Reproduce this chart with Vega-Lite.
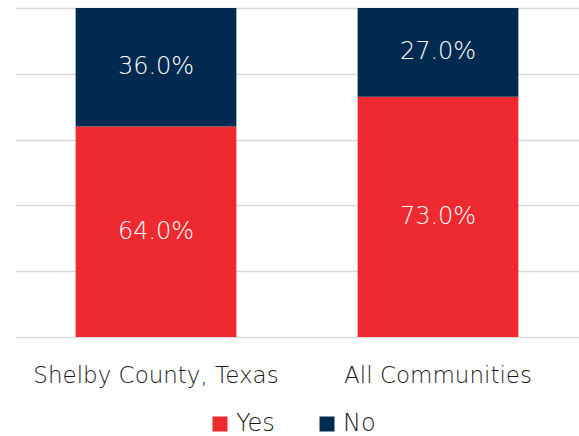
{
  "$schema": "https://vega.github.io/schema/vega-lite/v6.json",
  "width": 564,
  "height": 329,
  "autosize": {"type": "none"},
  "padding": {"left": 15, "top": 8, "right": 0, "bottom": 99},
  "background": "white",
  "config": {
    "view": {"stroke": null},
    "font": "DejaVu Sans",
    "axis": {"labelFont": "DejaVu Sans", "labelColor": "#222222"}
  },
  "data": {
    "values": [
      {"area": "Shelby County, Texas", "answer": "Yes", "value": 0.64, "ord": 1},
      {"area": "Shelby County, Texas", "answer": "No", "value": 0.36, "ord": 2},
      {"area": "All Communities", "answer": "Yes", "value": 0.73, "ord": 1},
      {"area": "All Communities", "answer": "No", "value": 0.27, "ord": 2}
    ]
  },
  "transform": [
    {"stack": "value", "groupby": ["area"], "sort": [{"field": "ord"}], "as": ["v0", "v1"]},
    {"calculate": "(datum.v0 + datum.v1) / 2", "as": "mid"}
  ],
  "encoding": {
    "x": {
      "field": "area",
      "type": "nominal",
      "sort": ["Shelby County, Texas", "All Communities"],
      "scale": {"paddingInner": 0.43, "paddingOuter": 0.215},
      "axis": {"title": null, "labelAngle": 0, "labelFontSize": 23, "labelFontWeight": 200, "labelPadding": 27, "labelLimit": 0, "ticks": false, "domain": false, "labelColor": "#1a1a1a"}
    }
  },
  "layer": [
    {
      "mark": {"type": "bar"},
      "encoding": {
        "y": {
          "field": "v0",
          "type": "quantitative",
          "scale": {"domain": [0, 1]},
          "axis": {"title": null, "labels": false, "ticks": false, "domain": false, "values": [0, 0.2, 0.4, 0.6, 0.8, 1], "gridColor": "#d9d9d9", "gridWidth": 1.5}
        },
        "y2": {"field": "v1"},
        "color": {
          "field": "answer",
          "type": "nominal",
          "scale": {"domain": ["Yes", "No"], "range": ["#EE2930", "#002A4F"]},
          "legend": {
            "title": null,
            "orient": "none",
            "legendX": 193,
            "legendY": 404,
            "direction": "horizontal",
            "symbolType": "square",
            "symbolSize": 225,
            "symbolStrokeWidth": 0,
            "labelFontSize": 24,
            "labelFontWeight": 200,
            "labelColor": "#1a1a1a",
            "labelFont": "DejaVu Sans",
            "columnPadding": 40,
            "labelOffset": 4
          }
        }
      }
    },
    {
      "mark": {"type": "text", "color": "white", "fontSize": 24, "fontWeight": 200, "baseline": "middle", "align": "center"},
      "encoding": {
        "y": {"field": "mid", "type": "quantitative"},
        "text": {"field": "value", "type": "quantitative", "format": ".1%"}
      }
    }
  ]
}
